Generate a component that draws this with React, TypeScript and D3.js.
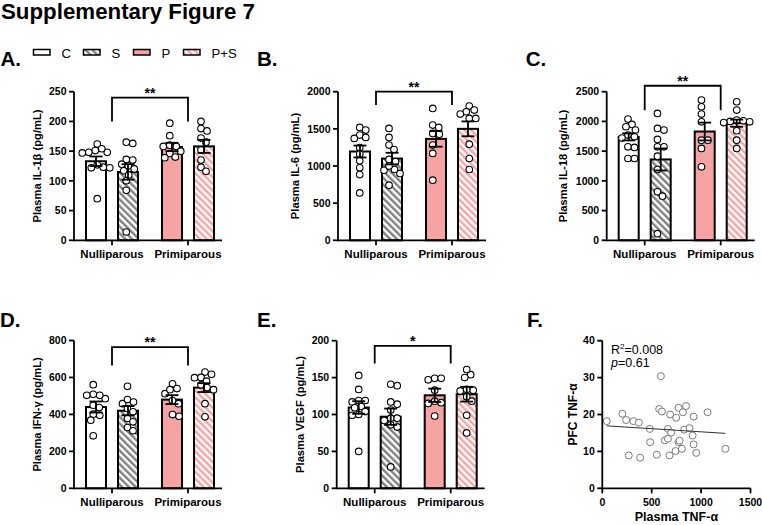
import React from "react";
import * as d3 from "d3";

const FONT = "'Liberation Sans', Arial, Helvetica, sans-serif";

const groups = ["Nulliparous", "Primiparous"];
const seriesNames = ["C", "S", "P", "P+S"];

// A. IL-1β
const il1bMeans = [133, 115, 157, 158];
const il1bSems = [8, 13, 7, 11];
const il1bC = [162, 151, 148, 147, 148, 154, 127, 123, 122, 122, 70];
const il1bS = [165, 163, 135, 136, 125, 128, 120, 117, 110, 100, 84, 14];
const il1bP = [197, 176, 158, 160, 158, 146, 139, 140, 150];
const il1bPS = [200, 188, 184, 172, 165, 152, 135, 123, 116];
const il1bBracket = [240, 200];

// B. IL-6
const il6Means = [1195, 1100, 1365, 1500];
const il6Sems = [80, 78, 105, 100];
const il6C = [1519, 1483, 1416, 1371, 1384, 1249, 1160, 1070, 975, 885, 638];
const il6S = [1506, 1384, 1281, 1222, 1088, 1060, 953, 944, 1000, 742, 900];
const il6P = [1775, 1551, 1519, 1438, 1429, 1281, 1169, 809];
const il6PS = [1807, 1753, 1730, 1699, 1640, 1640, 1294, 1101, 953];
const il6Bracket = [2000, 1820];

// C. IL-18
const il18Means = [1740, 1360, 1830, 1970];
const il18Sems = [60, 185, 150, 60];
const il18C = [1949, 2039, 1910, 1770, 1854, 1742, 1720, 1573, 1562, 1376, 1376];
const il18S = [2135, 1854, 1882, 1697, 1573, 1573, 1416, 1191, 815, 742, 112];
const il18P = [2360, 2247, 2124, 1994, 1685, 1685, 1545, 1236];
const il18PS = [2331, 2191, 2022, 2011, 1994, 2000, 1980, 1843, 1685, 1545];
const il18Bracket = [2600, 2190];

// D. IFN-γ
const ifnMeans = [440, 420, 480, 545];
const ifnSems = [30, 25, 24, 24];
const ifnC = [561, 485, 503, 509, 503, 450, 437, 401, 395, 369, 284];
const ifnS = [552, 458, 480, 467, 432, 414, 378, 360, 329, 311];
const ifnP = [566, 512, 534, 540, 475, 458, 390, 399];
const ifnPS = [629, 617, 599, 600, 580, 545, 534, 560, 458, 387];
const ifnBracket = [764, 665];

// E. VEGF
const vegfMeans = [109.5, 97, 126, 127.5];
const vegfSems = [8.5, 11, 9, 10];
const vegfC = [153, 134, 119, 117, 119, 111, 109, 104, 99, 100, 50];
const vegfS = [139, 141, 114, 117, 106, 95, 95, 92, 86, 83, 29];
const vegfP = [147, 149, 149, 133, 116, 115, 118, 98];
const vegfPS = [154, 161, 150, 134, 132, 133, 124, 118, 99, 75];
const vegfBracket = [193, 169];

// F. scatter
const plasmaTnf = [45, 203, 241, 315, 370, 481, 484, 268, 383, 552, 576, 603, 593, 687, 748, 772, 847, 816, 664, 697, 633, 664, 680, 741, 772, 782, 806, 829, 883, 914, 924, 951, 924, 1066, 1246];
const pfcTnf = [18.2, 20.2, 18.5, 18.2, 17.8, 16.1, 12.5, 8.9, 8.3, 9.1, 21.5, 20.8, 30.4, 20.0, 19.1, 21.8, 22.3, 20.6, 16.1, 15.1, 13.0, 13.4, 8.9, 10.1, 12.5, 12.9, 10.7, 15.9, 16.3, 14.3, 11.9, 9.6, 19.4, 20.6, 10.7];
const fTicksX = [0, 500, 1000, 1500];
const fTicksY = [0, 10, 20, 30, 40];

const PINK = "#F5A3A3";
const fills = ["#ffffff", "url(#hatchGray)", PINK, "url(#hatchPink)"];

type BarCfg = {
  letter: string; lx: number; ly: number;
  yLabel: string; labelOff: number;
  ax: number; top: number; bottom: number; max: number; step: number;
  means: number[]; sems: number[]; dots: number[][]; bracket: number[]; sig: string;
};

const barPanels: BarCfg[] = [
  { letter: "A.", lx: 0.5, ly: 66, yLabel: "Plasma IL-1β (pg/mL)", labelOff: 33.5, ax: 74, top: 91.7, bottom: 240.3, max: 250, step: 50, means: il1bMeans, sems: il1bSems, dots: [il1bC, il1bS, il1bP, il1bPS], bracket: il1bBracket, sig: "**" },
  { letter: "B.", lx: 257, ly: 66, yLabel: "Plasma IL-6 (pg/mL)", labelOff: 39.5, ax: 338, top: 91.7, bottom: 240.3, max: 2000, step: 500, means: il6Means, sems: il6Sems, dots: [il6C, il6S, il6P, il6PS], bracket: il6Bracket, sig: "**" },
  { letter: "C.", lx: 525.8, ly: 66, yLabel: "Plasma IL-18 (pg/mL)", labelOff: 40, ax: 606.7, top: 91.7, bottom: 240.3, max: 2500, step: 500, means: il18Means, sems: il18Sems, dots: [il18C, il18S, il18P, il18PS], bracket: il18Bracket, sig: "**" },
  { letter: "D.", lx: 0, ly: 326.5, yLabel: "Plasma IFN-γ (pg/mL)", labelOff: 33.5, ax: 74, top: 340.5, bottom: 488.3, max: 800, step: 200, means: ifnMeans, sems: ifnSems, dots: [ifnC, ifnS, ifnP, ifnPS], bracket: ifnBracket, sig: "**" },
  { letter: "E.", lx: 257, ly: 326.5, yLabel: "Plasma VEGF (pg/mL)", labelOff: 32.3, ax: 336.7, top: 340.7, bottom: 488.3, max: 200, step: 50, means: vegfMeans, sems: vegfSems, dots: [vegfC, vegfS, vegfP, vegfPS], bracket: vegfBracket, sig: "*" },
];

const R = 3.3;

function swarm(values: number[], y: (v: number) => number): number[] {
  const order = values.map((v, i) => i).sort((a, b) => values[b] - values[a]);
  const placed: { x: number; y: number }[] = [];
  const offs = new Array(values.length).fill(0);
  const minD = 2 * R - 0.2;
  for (const i of order) {
    const py = y(values[i]);
    let chosen = 0;
    for (let k = 0; k < 200; k++) {
      const cand = k === 0 ? 0 : (k % 2 === 1 ? 1 : -1) * Math.ceil(k / 2) * 0.5;
      const ok = placed.every((p) => Math.hypot(p.x - cand, p.y - py) >= minD);
      if (ok) { chosen = cand; break; }
    }
    placed.push({ x: chosen, y: py });
    offs[i] = chosen;
  }
  // recentre the swarm of each bar around the bar centre
  const lo = d3.min(offs) as number;
  const hi = d3.max(offs) as number;
  const shift = (lo + hi) / 2;
  return offs.map((o) => o - shift);
}

function BarPanel({ cfg }: { cfg: BarCfg }) {
  const y = d3.scaleLinear().domain([0, cfg.max]).range([cfg.bottom, cfg.top]);
  const gx = d3.scaleBand().domain(groups).range([cfg.ax, cfg.ax + 152]);
  const sx = d3.scaleBand().domain(["0", "1"]).range([-27, 27]).paddingInner(0.3125);
  const bw = sx.bandwidth();
  const gc = (g: string) => (gx(g) as number) + gx.bandwidth() / 2;
  const centers = seriesNames.map((_, i) => gc(groups[Math.floor(i / 2)]) + (sx(String(i % 2)) as number) + bw / 2);
  const ticks = d3.range(0, cfg.max + 0.001, cfg.step);
  const x0 = gc(groups[0]);
  const x1 = gc(groups[1]);
  const by0 = y(cfg.bracket[0]);
  const by1 = y(cfg.bracket[1]);
  return (
    <g>
      <text x={cfg.lx} y={cfg.ly} fontSize={20.5} fontWeight="bold" fontFamily={FONT}>{cfg.letter}</text>
      {seriesNames.map((s, i) => (
        <rect key={s} x={centers[i] - bw / 2 + 1} width={bw - 2} y={y(cfg.means[i])} height={y(0) - y(cfg.means[i])}
          fill={fills[i]} stroke="#000" strokeWidth={2} />
      ))}
      {cfg.dots.map((vals, i) => {
        const offs = swarm(vals, y);
        return vals.map((v, j) => (
          <circle key={i + "-" + j} cx={centers[i] + offs[j]} cy={y(v)} r={R} fill="#fff" stroke="#000" strokeWidth={1.1} />
        ));
      })}
      {seriesNames.map((s, i) => {
        const yt = y(cfg.means[i] + cfg.sems[i]);
        const yb = y(cfg.means[i] - cfg.sems[i]);
        const c = centers[i];
        return (
          <g key={"e" + s} stroke="#000" strokeWidth={1.8}>
            <line x1={c} x2={c} y1={yt} y2={yb} />
            <line x1={c - 6.5} x2={c + 6.5} y1={yt} y2={yt} />
            <line x1={c - 6.5} x2={c + 6.5} y1={yb} y2={yb} />
          </g>
        );
      })}
      <line x1={cfg.ax} x2={cfg.ax} y1={y(cfg.max)} y2={y(0) + 0.9} stroke="#000" strokeWidth={1.8} />
      {ticks.map((t) => (
        <g key={t}>
          <line x1={cfg.ax - 5} x2={cfg.ax} y1={y(t)} y2={y(t)} stroke="#000" strokeWidth={1.8} />
          <text x={cfg.ax - 7.5} y={y(t)} dy="0.36em" textAnchor="end" fontSize={10.5} fontWeight="bold" fontFamily={FONT}>{t}</text>
        </g>
      ))}
      <line x1={cfg.ax} x2={cfg.ax + 148} y1={y(0)} y2={y(0)} stroke="#000" strokeWidth={1.8} />
      {groups.map((g) => (
        <g key={g}>
          <line x1={gc(g)} x2={gc(g)} y1={y(0)} y2={y(0) + 5} stroke="#000" strokeWidth={1.8} />
          <text x={gc(g)} y={y(0) + 17.5} textAnchor="middle" fontSize={11.5} fontWeight="bold" fontFamily={FONT}>{g}</text>
        </g>
      ))}
      <text transform={`translate(${cfg.ax - cfg.labelOff},${(y(0) + y(cfg.max)) / 2}) rotate(-90)`} textAnchor="middle"
        fontSize={11.2} fontWeight="bold" fontFamily={FONT}>{cfg.yLabel}</text>
      <path d={`M${x0},${by1}V${by0}H${x1}V${by1}`} fill="none" stroke="#000" strokeWidth={1.8} />
      <text x={(x0 + x1) / 2} y={by0} textAnchor="middle" fontSize={14} fontWeight="bold" fontFamily={FONT}>{cfg.sig}</text>
    </g>
  );
}

function ScatterPanel() {
  const x = d3.scaleLinear().domain([0, 1500]).range([602.3, 750.5]);
  const y = d3.scaleLinear().domain([0, 40]).range([488.3, 340.7]);
  const n = plasmaTnf.length;
  const mx = d3.mean(plasmaTnf) as number;
  const my = d3.mean(pfcTnf) as number;
  let sxy = 0, sxx = 0;
  for (let i = 0; i < n; i++) {
    sxy += (plasmaTnf[i] - mx) * (pfcTnf[i] - my);
    sxx += (plasmaTnf[i] - mx) ** 2;
  }
  const slope = sxy / sxx;
  const icpt = my - slope * mx;
  const [xmin, xmax] = d3.extent(plasmaTnf) as [number, number];
  const line = d3.line<number>().x((d) => x(d)).y((d) => y(icpt + slope * d));
  return (
    <g>
      <text x={527} y={326.5} fontSize={20.5} fontWeight="bold" fontFamily={FONT}>F.</text>
      {plasmaTnf.map((v, i) => (
        <circle key={i} cx={x(v)} cy={y(pfcTnf[i])} r={3.5} fill="#fff" stroke="#7a7a7a" strokeWidth={1} />
      ))}
      <path d={line([xmin, xmax]) as string} stroke="#333" strokeWidth={1} fill="none" />
      <line x1={x(0)} x2={x(0)} y1={y(40)} y2={y(0) + 0.9} stroke="#000" strokeWidth={1.8} />
      {fTicksY.map((t) => (
        <g key={t}>
          <line x1={x(0) - 5} x2={x(0)} y1={y(t)} y2={y(t)} stroke="#000" strokeWidth={1.8} />
          <text x={x(0) - 7.5} y={y(t)} dy="0.36em" textAnchor="end" fontSize={10.5} fontWeight="bold" fontFamily={FONT}>{t}</text>
        </g>
      ))}
      <line x1={x(0) - 0.9} x2={x(1500)} y1={y(0)} y2={y(0)} stroke="#000" strokeWidth={1.8} />
      {fTicksX.map((t) => (
        <g key={t}>
          <line x1={x(t)} x2={x(t)} y1={y(0)} y2={y(0) + 5} stroke="#000" strokeWidth={1.8} />
          <text x={x(t)} y={y(0) + 17.5} textAnchor="middle" fontSize={10.5} fontWeight="bold" fontFamily={FONT}>{t}</text>
        </g>
      ))}
      <text transform={`translate(${x(0) - 25.5},${(y(0) + y(40)) / 2}) rotate(-90)`} textAnchor="middle"
        fontSize={12} fontWeight="bold" fontFamily={FONT}>PFC TNF-α</text>
      <text x={(x(0) + x(1500)) / 2} y={520.5} textAnchor="middle" fontSize={12.5} fontWeight="bold" fontFamily={FONT}>Plasma TNF-α</text>
      <text x={611} y={354} fontSize={12.5} fontFamily={FONT}>
        R<tspan dy={-5} fontSize={8}>2</tspan><tspan dy={5}>=0.008</tspan>
      </text>
      <text x={611} y={366.5} fontSize={12.5} fontFamily={FONT}>
        <tspan fontStyle="italic">p</tspan>=0.61
      </text>
    </g>
  );
}

function Legend() {
  return (
    <g>
      {seriesNames.map((s, i) => {
        const bx = 33.5 + i * 50;
        return (
          <g key={s}>
            <rect x={bx} y={49.5} width={16.5} height={5.5} fill={fills[i]} stroke="#000" strokeWidth={1.5} />
            <text x={bx + 28} y={58} fontSize={13.2} fontFamily={FONT}>{s}</text>
          </g>
        );
      })}
    </g>
  );
}

export default function App() {
  return (
    <svg width={762} height={525} viewBox="0 0 762 525"
      style={{ position: "absolute", left: 0, top: 0, background: "#fff" }}>
      <defs>
        <pattern id="hatchGray" patternUnits="userSpaceOnUse" width={4.8} height={4.8} patternTransform="rotate(-45)">
          <rect width={4.8} height={4.8} fill="#fff" />
          <rect width={2.4} height={4.8} fill="#808080" />
        </pattern>
        <pattern id="hatchPink" patternUnits="userSpaceOnUse" width={4.8} height={4.8} patternTransform="rotate(-45)">
          <rect width={4.8} height={4.8} fill="#fff" />
          <rect width={2.4} height={4.8} fill={PINK} />
        </pattern>
      </defs>
      <rect width={762} height={525} fill="#fff" />
      <text x={1} y={18.5} fontSize={22.3} fontWeight="bold" fontFamily={FONT}>Supplementary Figure 7</text>
      <Legend />
      {barPanels.map((p) => <BarPanel key={p.letter} cfg={p} />)}
      <ScatterPanel />
    </svg>
  );
}
